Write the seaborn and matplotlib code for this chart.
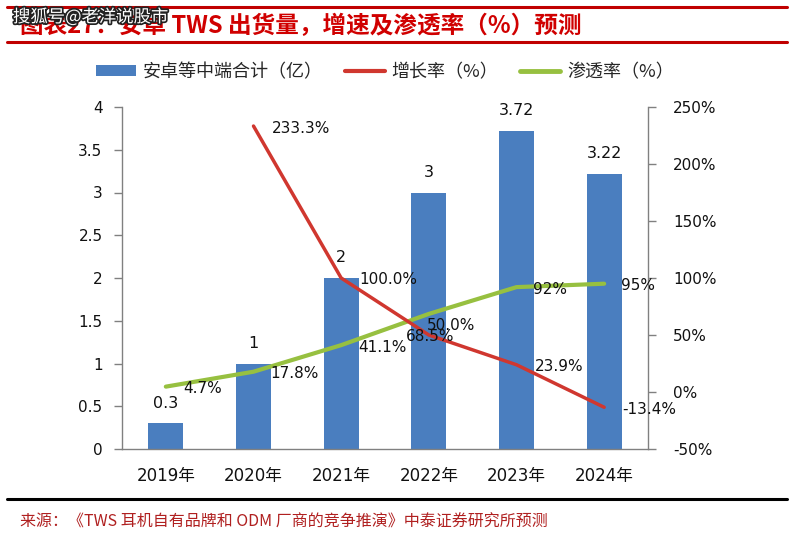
import numpy as np
import pandas as pd
import matplotlib
matplotlib.use("Agg")
import matplotlib.pyplot as plt
import matplotlib.patheffects as pe
from matplotlib.lines import Line2D
from matplotlib.patches import Patch
import seaborn as sns

# ---- data ----
years = ["2019年", "2020年", "2021年", "2022年", "2023年", "2024年"]
shipments = [0.3, 1, 2, 3, 3.72, 3.22]
shipment_labels = ["0.3", "1", "2", "3", "3.72", "3.22"]
growth_years = ["2020年", "2021年", "2022年", "2023年", "2024年"]
growth = [233.3, 100.0, 50.0, 23.9, -13.4]
growth_labels = ["233.3%", "100.0%", "50.0%", "23.9%", "-13.4%"]
penetration = [4.7, 17.8, 41.1, 68.5, 92, 95]
penetration_labels = ["4.7%", "17.8%", "41.1%", "68.5%", "92%", "95%"]
left_ticks = [0, 0.5, 1, 1.5, 2, 2.5, 3, 3.5, 4]
left_ticklabels = ["0", "0.5", "1", "1.5", "2", "2.5", "3", "3.5", "4"]
right_ticks = [-50, 0, 50, 100, 150, 200, 250]
right_ticklabels = ["-50%", "0%", "50%", "100%", "150%", "200%", "250%"]

title = "图表27：安卓 TWS 出货量，增速及渗透率（%）预测"
watermark = "搜狐号@老洋说股市"
source = "来源：《TWS 耳机自有品牌和 ODM 厂商的竞争推演》中泰证券研究所预测"
legend_labels = ["安卓等中端合计（亿）", "增长率（%）", "渗透率（%）"]

BLUE = "#4A7EBF"
RED = "#D0372F"
GREEN = "#97C040"
AXC = "#808080"

sns.set_theme(style="white")
plt.rcParams["font.family"] = ["DejaVu Sans", "Noto Sans CJK SC"]

fig = plt.figure(figsize=(8.0, 5.47), dpi=100)
ax = fig.add_axes([122 / 800, 1 - 449 / 547, 526 / 800, 342 / 547])

pos = np.arange(len(years))
df_bar = pd.DataFrame({"year": years, "val": shipments})
sns.barplot(data=df_bar, x="year", y="val", color=BLUE, saturation=1,
            width=0.4, ax=ax, edgecolor="none")

ax.set_ylim(0, 4)
ax.set_xlim(-0.5, len(years) - 0.5)
ax.set_yticks(left_ticks)
ax.set_yticklabels(left_ticklabels, fontsize=11, color="#111111")
ax.set_xticks(pos)
ax.set_xticklabels(years, fontsize=12, color="#111111")
ax.set_xticks(np.arange(0.5, len(years) - 1, 1), minor=True)
ax.tick_params(axis="x", which="major", length=0, pad=13)
ax.tick_params(axis="x", which="minor", length=6, width=1, color=AXC, direction="out")
ax.tick_params(axis="y", length=6, width=1, color=AXC, direction="out", left=True, pad=8)
ax.set_xlabel("")
ax.set_ylabel("")
for s in ["left", "bottom"]:
    ax.spines[s].set_color(AXC)
    ax.spines[s].set_linewidth(1)
ax.spines["top"].set_visible(False)
ax.spines["right"].set_visible(False)

for i, (v, lab) in enumerate(zip(shipments, shipment_labels)):
    ax.annotate(lab, (pos[i], v), xytext=(0, 20), textcoords="offset pixels",
                ha="center", va="center", fontsize=11.5, color="#111111")

ax2 = ax.twinx()
gpos = [years.index(y) for y in growth_years]
df_g = pd.DataFrame({"x": gpos, "v": growth})
df_p = pd.DataFrame({"x": pos, "v": penetration})
sns.lineplot(data=df_p, x="x", y="v", ax=ax2, color=GREEN, linewidth=3.0,
             legend=False, zorder=3)
sns.lineplot(data=df_g, x="x", y="v", ax=ax2, color=RED, linewidth=2.5,
             legend=False, zorder=4)
ax2.set_ylim(-50, 250)
ax2.set_xlim(-0.5, len(years) - 0.5)
ax2.set_yticks(right_ticks)
ax2.set_yticklabels(right_ticklabels, fontsize=11, color="#111111")
ax2.tick_params(axis="y", length=6, width=1, color=AXC, direction="out", right=True, pad=12)
ax2.set_xlabel("")
ax2.set_ylabel("")
for s in ["left", "bottom", "top"]:
    ax2.spines[s].set_visible(False)
ax2.spines["right"].set_color(AXC)
ax2.spines["right"].set_linewidth(1)

# label offsets (pixels)
g_off = {2022: (-2, 10)}
p_off = {2022: (-23, -23)}
for x, v, lab, y in zip(gpos, growth, growth_labels, growth_years):
    dx, dy = g_off.get(int(y[:4]), (18, -2))
    ax2.annotate(lab, (x, v), xytext=(dx, dy), textcoords="offset pixels",
                 ha="left", va="center", fontsize=11, color="#111111", zorder=6)
for x, v, lab, y in zip(pos, penetration, penetration_labels, years):
    dx, dy = p_off.get(int(y[:4]), (17, -2))
    ax2.annotate(lab, (x, v), xytext=(dx, dy), textcoords="offset pixels",
                 ha="left", va="center", fontsize=11, color="#111111", zorder=6)

# legend
handles = [Patch(facecolor=BLUE, edgecolor="none"),
           Line2D([], [], color=RED, linewidth=3),
           Line2D([], [], color=GREEN, linewidth=3.5)]
fig.legend(handles, legend_labels, loc="center", bbox_to_anchor=(385 / 800, 1 - 72 / 547),
           ncol=3, frameon=False, handlelength=2.2, handleheight=0.6,
           handletextpad=0.4, columnspacing=1.2, prop={"family": ["Noto Sans CJK SC"], "size": 13})

# title band
for yy in (7, 42):
    fig.add_artist(Line2D([7 / 800, 787 / 800], [1 - yy / 547, 1 - yy / 547],
                          color="#C00000", linewidth=2.2, transform=fig.transFigure))
fig.text(20 / 800, 1 - 26 / 547, title, ha="left", va="center", fontsize=17,
         fontweight="bold", color="#D00000", family=["Noto Sans CJK SC", "DejaVu Sans"])
fig.text(13 / 800, 1 - 17 / 547, watermark, ha="left", va="center", fontsize=12.5,
         color="white", family=["Noto Sans CJK SC", "DejaVu Sans"],
         path_effects=[pe.withStroke(linewidth=2.5, foreground="#222222")])

# bottom rule & source
fig.add_artist(Line2D([7 / 800, 787 / 800], [1 - 499 / 547, 1 - 499 / 547],
                      color="black", linewidth=2.2, transform=fig.transFigure))
fig.text(20 / 800, 1 - 522 / 547, source, ha="left", va="center", fontsize=11.5,
         color="#B02020", family=["Noto Sans CJK SC", "DejaVu Sans"])

fig.savefig("out.png", dpi=100, facecolor="white")
